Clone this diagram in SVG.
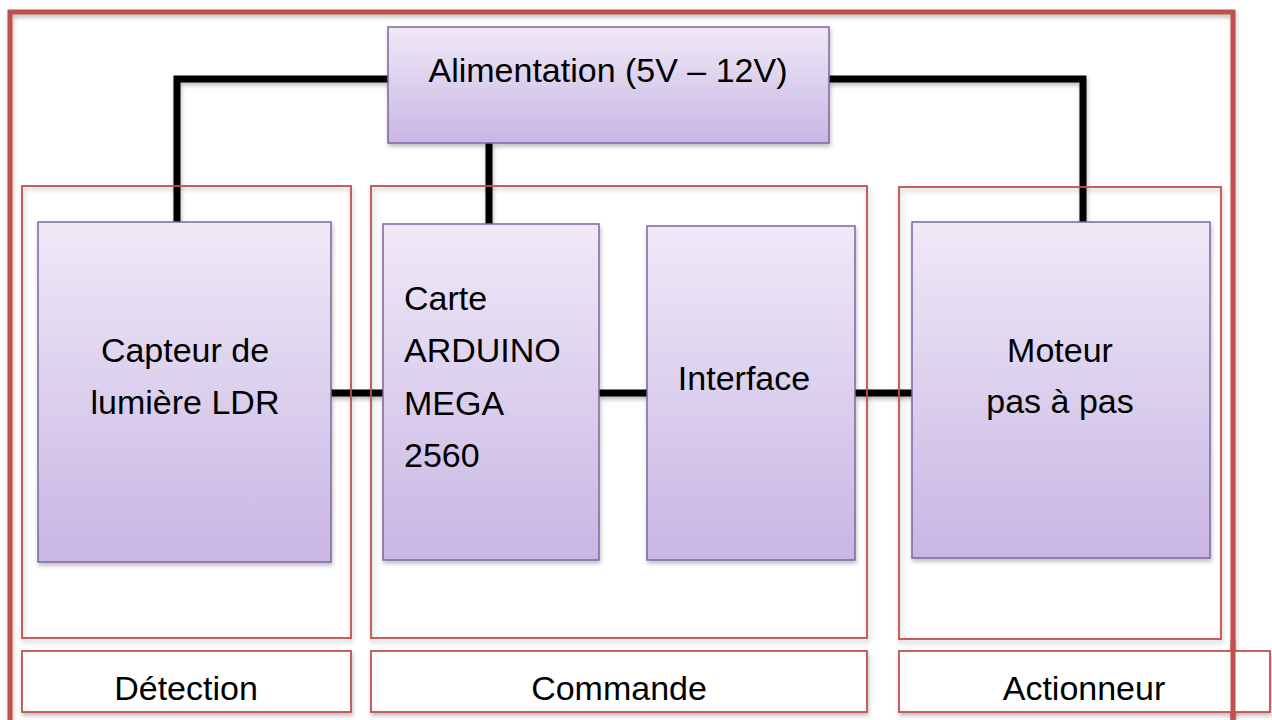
<svg xmlns="http://www.w3.org/2000/svg" width="1272" height="720" viewBox="0 0 1272 720">
<defs>
  <linearGradient id="pg" x1="0" y1="0" x2="0" y2="1">
    <stop offset="0" stop-color="#efe9f7"/>
    <stop offset="1" stop-color="#c8b6e4"/>
  </linearGradient>
  <filter id="sh" filterUnits="userSpaceOnUse" x="0" y="0" width="1272" height="720">
    <feDropShadow dx="1" dy="3" stdDeviation="2" flood-color="#000" flood-opacity="0.25"/>
  </filter>
  <style>
    .blk{fill:url(#pg);stroke:#8064a2;stroke-width:1.5;filter:url(#sh)}
    .sec{fill:none;stroke:#c0504d;stroke-width:1.8;filter:url(#sh)}
    .lab{fill:#ffffff;stroke:#c0504d;stroke-width:1.8;filter:url(#sh)}
    .wire{fill:none;stroke:#000;stroke-width:7;stroke-linejoin:miter;filter:url(#sh)}
    text{font-family:"Liberation Sans",Arial,sans-serif;font-size:34px;fill:#000}
    .c{text-anchor:middle}
  </style>
</defs>
<rect width="1272" height="720" fill="#ffffff"/>

<g id="frame">
  <path d="M10,724 V12 H1233 V724" fill="none" stroke="#c0504d" stroke-width="5" filter="url(#sh)"/>
</g>

<g id="connectors">
  <path class="wire" d="M388,79 H177 V222"/>
  <path class="wire" d="M829,79 H1083 V222"/>
  <path class="wire" d="M489,143 V226"/>
  <path class="wire" d="M331,393 H383"/>
  <path class="wire" d="M599,393 H647"/>
  <path class="wire" d="M855,393 H912"/>
</g>

<g id="sections">
  <rect id="sec-detection" class="sec" x="22" y="186" width="329" height="452"/>
  <rect id="sec-commande" class="sec" x="371" y="186" width="496" height="452"/>
  <rect id="sec-actionneur" class="sec" x="899" y="187" width="322" height="452"/>
</g>

<g id="alimentation">
  <rect class="blk" x="388" y="27" width="441" height="116"/>
  <text class="c" x="608" y="82">Alimentation (5V – 12V)</text>
</g>

<g id="capteur">
  <rect class="blk" x="38" y="222" width="293" height="340"/>
  <text class="c" x="185" y="362">Capteur de</text>
  <text class="c" x="185" y="414">lumière LDR</text>
</g>

<g id="carte">
  <rect class="blk" x="383" y="224" width="216" height="336"/>
  <text x="404" y="310">Carte</text>
  <text x="404" y="362">ARDUINO</text>
  <text x="404" y="415">MEGA</text>
  <text x="404" y="467">2560</text>
</g>

<g id="interface">
  <rect class="blk" x="647" y="226" width="208" height="334"/>
  <text class="c" x="744" y="390">Interface</text>
</g>

<g id="moteur">
  <rect class="blk" x="912" y="222" width="298" height="336"/>
  <text class="c" x="1060" y="362">Moteur</text>
  <text class="c" x="1060" y="413">pas à pas</text>
</g>

<g id="label-detection">
  <rect class="lab" x="22" y="651" width="329" height="61"/>
  <text class="c" x="186" y="700">Détection</text>
</g>
<g id="label-commande">
  <rect class="lab" x="371" y="651" width="496" height="61"/>
  <text class="c" x="619" y="700">Commande</text>
</g>
<g id="label-actionneur">
  <rect class="lab" x="899" y="651" width="371" height="61"/>
  <text class="c" x="1084" y="700">Actionneur</text>
</g>

<g id="frame-over">
  <path d="M1233,640 V724" fill="none" stroke="#c0504d" stroke-width="5"/>
</g>
</svg>
